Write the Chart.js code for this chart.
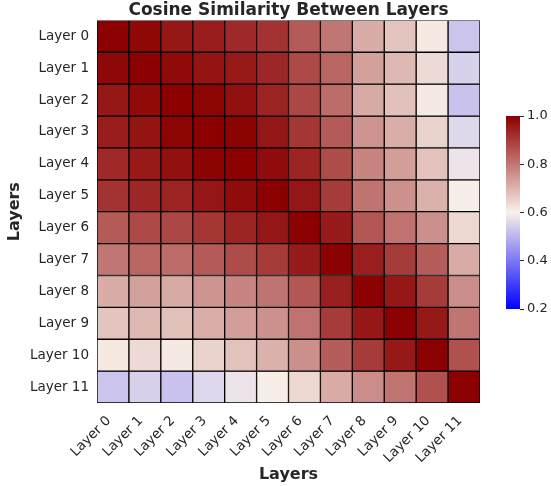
<!DOCTYPE html>
<html>
<head>
<meta charset="utf-8">
<script src="https://cdn.jsdelivr.net/npm/chart.js@4.4.1/dist/chart.umd.min.js"></script>
<style>
  html, body { margin: 0; padding: 0; background: #ffffff; }
  #wrap { position: relative; width: 551px; height: 486px; overflow: hidden; }
  #main { position: absolute; left: 0; top: 0; }
  #cbar { position: absolute; left: 506px; top: 100px; }
</style>
</head>
<body>
<div id="wrap">
  <canvas id="main" width="551" height="486"></canvas>
  <canvas id="cbar" width="45" height="225"></canvas>
</div>
<script>
// Layer names used for both axes
const layerLabels = ['Layer 0', 'Layer 1', 'Layer 2', 'Layer 3', 'Layer 4', 'Layer 5',
                     'Layer 6', 'Layer 7', 'Layer 8', 'Layer 9', 'Layer 10', 'Layer 11'];

// Pairwise cosine similarity, one row per layer
const simLayer0  = [1.000, 0.986, 0.962, 0.952, 0.932, 0.915, 0.850, 0.804, 0.714, 0.673, 0.612, 0.527];
const simLayer1  = [0.986, 1.000, 0.983, 0.966, 0.957, 0.935, 0.877, 0.830, 0.734, 0.694, 0.636, 0.548];
const simLayer2  = [0.962, 0.983, 1.000, 0.993, 0.973, 0.940, 0.882, 0.820, 0.716, 0.679, 0.610, 0.523];
const simLayer3  = [0.952, 0.966, 0.993, 1.000, 0.995, 0.963, 0.910, 0.848, 0.753, 0.712, 0.648, 0.559];
const simLayer4  = [0.932, 0.957, 0.973, 0.995, 1.000, 0.981, 0.938, 0.874, 0.780, 0.736, 0.677, 0.580];
const simLayer5  = [0.915, 0.935, 0.940, 0.963, 0.981, 1.000, 0.963, 0.900, 0.806, 0.758, 0.705, 0.604];
const simLayer6  = [0.850, 0.877, 0.882, 0.910, 0.938, 0.963, 1.000, 0.955, 0.855, 0.810, 0.760, 0.642];
const simLayer7  = [0.804, 0.830, 0.820, 0.848, 0.874, 0.900, 0.955, 1.000, 0.948, 0.900, 0.845, 0.715];
const simLayer8  = [0.714, 0.734, 0.716, 0.753, 0.780, 0.806, 0.855, 0.948, 1.000, 0.962, 0.900, 0.765];
const simLayer9  = [0.673, 0.694, 0.679, 0.712, 0.736, 0.758, 0.810, 0.900, 0.962, 1.000, 0.958, 0.805];
const simLayer10 = [0.612, 0.636, 0.610, 0.648, 0.677, 0.705, 0.760, 0.845, 0.900, 0.958, 1.000, 0.865];
const simLayer11 = [0.527, 0.548, 0.523, 0.559, 0.580, 0.604, 0.642, 0.715, 0.765, 0.805, 0.865, 1.000];

const similarity = [simLayer0, simLayer1, simLayer2, simLayer3, simLayer4, simLayer5,
                    simLayer6, simLayer7, simLayer8, simLayer9, simLayer10, simLayer11];

// Colour scale range and its tick labels
const colorMin = 0.2;
const colorMax = 1.0;
const colorbarTicks = [0.2, 0.4, 0.6, 0.8, 1.0];

// Diverging blue -> cream -> dark red colour map
const cmapStops = [
  { t: 0.0, c: [0, 0, 255] },
  { t: 0.5, c: [248, 240, 233] },
  { t: 1.0, c: [139, 0, 0] }
];

function colorAt(t) {
  t = Math.max(0, Math.min(1, t));
  for (let i = 1; i < cmapStops.length; i++) {
    const a = cmapStops[i - 1], b = cmapStops[i];
    if (t <= b.t) {
      const f = (t - a.t) / (b.t - a.t);
      const rgb = a.c.map((v, k) => Math.round(v + (b.c[k] - v) * f));
      return `rgb(${rgb[0]},${rgb[1]},${rgb[2]})`;
    }
  }
  const last = cmapStops[cmapStops.length - 1].c;
  return `rgb(${last[0]},${last[1]},${last[2]})`;
}

function colorFor(v) {
  return colorAt((v - colorMin) / (colorMax - colorMin));
}

const TEXT = '#262626';
const FONT = "'DejaVu Sans', sans-serif";

// Heatmap: every row is a dataset of floating bars spanning [row, row + 1]
new Chart(document.getElementById('main'), {
  type: 'bar',
  data: {
    labels: layerLabels,
    datasets: similarity.map((row, r) => ({
      label: layerLabels[r],
      data: row.map(() => [r, r + 1]),
      backgroundColor: row.map(v => colorFor(v)),
      borderColor: '#000000',
      borderWidth: 1,
      borderSkipped: false,
      barPercentage: 1,
      categoryPercentage: 1,
      grouped: false
    }))
  },
  options: {
    responsive: false,
    animation: false,
    devicePixelRatio: 1,
    layout: { padding: { left: 0, right: 71, top: 0, bottom: 0 } },
    plugins: {
      legend: { display: false },
      tooltip: { enabled: false },
      title: {
        display: true,
        text: 'Cosine Similarity Between Layers',
        fullSize: false,
        color: TEXT,
        font: { family: FONT, size: 17, weight: 'bold' },
        padding: { top: 0, bottom: 0 }
      }
    },
    scales: {
      x: {
        type: 'category',
        offset: true,
        grid: { display: false, drawTicks: false },
        border: { display: false },
        ticks: {
          autoSkip: false,
          minRotation: 45,
          maxRotation: 45,
          padding: 10,
          labelOffset: -4,
          color: TEXT,
          font: { family: FONT, size: 13.5 }
        },
        title: {
          display: true,
          text: 'Layers',
          color: TEXT,
          font: { family: FONT, size: 16, weight: 'bold' },
          padding: { top: 0, bottom: 2 }
        },
        afterFit: s => { s.height = 83; }
      },
      y: {
        type: 'linear',
        min: 0,
        max: layerLabels.length,
        reverse: true,
        afterBuildTicks: s => { s.ticks = layerLabels.map((_, i) => ({ value: i + 0.5 })); },
        grid: { display: false, drawTicks: false },
        border: { display: false },
        ticks: {
          autoSkip: false,
          padding: 8,
          color: TEXT,
          font: { family: FONT, size: 13.5 },
          callback: (v, i) => layerLabels[i]
        },
        title: {
          display: true,
          text: 'Layers',
          color: TEXT,
          font: { family: FONT, size: 16, weight: 'bold' },
          padding: { top: 5, bottom: 0 }
        },
        afterFit: s => { s.width = 97; }
      }
    }
  }
});

// Colour bar: a single floating bar filled with the colour map gradient
new Chart(document.getElementById('cbar'), {
  type: 'bar',
  data: {
    labels: [''],
    datasets: [{
      data: [[colorMin, colorMax]],
      backgroundColor: ctx => {
        const chart = ctx.chart;
        const ys = chart.scales.y;
        if (!chart.chartArea || !ys) return colorFor(colorMax);
        const g = chart.ctx.createLinearGradient(0, ys.getPixelForValue(colorMin), 0, ys.getPixelForValue(colorMax));
        for (let i = 0; i <= 40; i++) g.addColorStop(i / 40, colorAt(i / 40));
        return g;
      },
      borderWidth: 0,
      barPercentage: 1,
      categoryPercentage: 1
    }]
  },
  options: {
    responsive: false,
    animation: false,
    devicePixelRatio: 1,
    layout: { padding: { left: 0, right: 0, top: 16, bottom: 16 } },
    plugins: { legend: { display: false }, tooltip: { enabled: false } },
    scales: {
      x: { display: false },
      y: {
        position: 'right',
        min: colorMin,
        max: colorMax,
        afterBuildTicks: s => { s.ticks = colorbarTicks.map(v => ({ value: v })); },
        grid: { display: true, drawOnChartArea: false, drawTicks: true, tickLength: 4, color: TEXT, lineWidth: 1 },
        border: { display: false },
        ticks: {
          padding: 3,
          color: TEXT,
          font: { family: FONT, size: 13 },
          callback: v => v.toFixed(1)
        },
        afterFit: s => { s.width = 31; }
      }
    }
  }
});
</script>
</body>
</html>
